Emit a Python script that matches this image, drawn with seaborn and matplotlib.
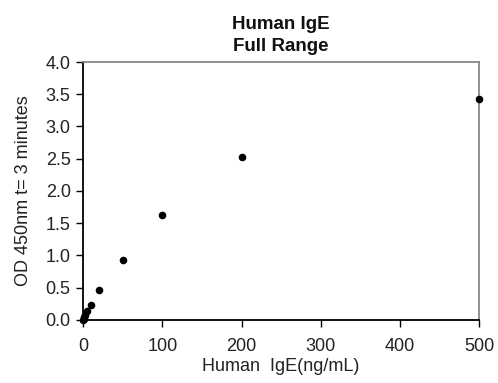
import matplotlib
matplotlib.use("Agg")
import matplotlib.pyplot as plt
import seaborn as sns
import pandas as pd

# standard curve values
conc = [0, 0.625, 1.25, 2.5, 5, 10, 20, 50, 100, 200, 500]
od = [0.0, 0.02, 0.04, 0.07, 0.13, 0.23, 0.47, 0.93, 1.62, 2.53, 3.43]
x_ticks = [0, 100, 200, 300, 400, 500]
y_ticks = [0.0, 0.5, 1.0, 1.5, 2.0, 2.5, 3.0, 3.5, 4.0]

df = pd.DataFrame({"conc": conc, "od": od})

sns.set_style("white")
plt.rcParams['font.family'] = ['Liberation Sans', 'DejaVu Sans']

fig, ax = plt.subplots(figsize=(4.98, 3.83), dpi=100)
fig.subplots_adjust(left=0.167, right=0.962, top=0.838, bottom=0.165)

sns.scatterplot(data=df, x="conc", y="od", ax=ax, color="black", s=30,
                edgecolor="black", linewidth=0, clip_on=False, zorder=5)

ax.set_xlim(0, 500)
ax.set_ylim(0, 4.0)
ax.set_xticks(x_ticks)
ax.set_yticks(y_ticks)
ax.set_yticklabels([f"{v:.1f}" for v in y_ticks])
ax.tick_params(axis="both", direction="out", length=5, width=1, color="black",
               labelsize=13, labelcolor="#222222", bottom=True, left=True)
ax.tick_params(axis="x", pad=8)
ax.tick_params(axis="y", pad=4)

for side in ["left", "bottom"]:
    ax.spines[side].set_color("black")
    ax.spines[side].set_linewidth(1.3)
for side in ["top", "right"]:
    ax.spines[side].set_color("#888888")
    ax.spines[side].set_linewidth(1.3)

ax.set_title("Human IgE\nFull Range", fontsize=13.5, fontweight="bold", pad=8,
             linespacing=1.35, color="#111111")
ax.set_xlabel("Human  IgE(ng/mL)", fontsize=13, color="#222222", labelpad=2)
ax.set_ylabel("OD 450nm t= 3 minutes", fontsize=13, color="#222222", labelpad=10)

fig.savefig("out.png", dpi=100)
